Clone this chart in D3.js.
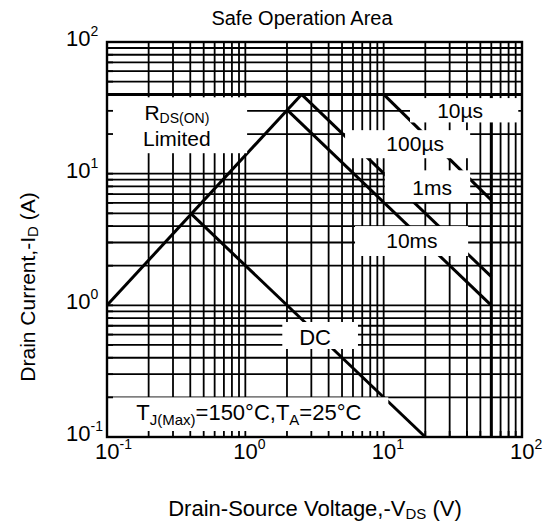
<!DOCTYPE html>
<html>
<head>
<meta charset="utf-8">
<script src="https://cdn.jsdelivr.net/npm/d3@7"></script>
<style>
  html, body { margin: 0; padding: 0; background: #fff; }
  svg { display: block; font-family: "Liberation Sans", Arial, Helvetica, sans-serif; }
</style>
</head>
<body>
<svg id="chart" width="549" height="530"></svg>
<script>
// Axis decades and tick labels
const xDecades = [0.1, 1, 10, 100];
const yDecades = [0.1, 1, 10, 100];
const decadeExponents = ["-1", "0", "1", "2"];

// R_DS(ON) limited boundary (V, A)
const rdsV = [0.1, 2.55];
const rdsI = [1.0, 40];

// Pulsed drain current limit and breakdown voltage limit
const idmI = 40;
const bvdssV = 60;

// Pulse-width power limit lines (V, A)
const p10usV = [10, 60];     const p10usI = [40, 6.3];
const p100usV = [2.55, 60];  const p100usI = [40, 1.65];
const p1msV = [2.04, 60];    const p1msI = [30, 1.0];
const dcV = [0.41, 20];      const dcI = [4.9, 0.1];

const plot = { left: 107, right: 522, top: 42, bottom: 437 };

const svg = d3.select("#chart");
const x = d3.scaleLog().domain([0.1, 100]).range([plot.left, plot.right]);
const y = d3.scaleLog().domain([0.1, 100]).range([plot.bottom, plot.top]);

// 1..9 positions in every decade
function minors(decs) {
  const out = [];
  for (let i = 0; i < decs.length - 1; i++) {
    for (let k = 1; k <= 9; k++) out.push(decs[i] * k);
  }
  out.push(decs[decs.length - 1]);
  return out;
}
const xGrid = minors(xDecades);
const yGrid = minors(yDecades);

const g = svg.append("g");

// grid
g.append("g").selectAll("line").data(xGrid).join("line")
  .attr("x1", d => x(d)).attr("x2", d => x(d))
  .attr("y1", plot.top).attr("y2", plot.bottom)
  .attr("stroke", "#000").attr("stroke-width", 1.8);
g.append("g").selectAll("line").data(yGrid).join("line")
  .attr("x1", plot.left).attr("x2", plot.right)
  .attr("y1", d => y(d)).attr("y2", d => y(d))
  .attr("stroke", "#000").attr("stroke-width", 1.8);

// SOA boundary lines
const line = d3.line().x(d => x(d[0])).y(d => y(d[1]));
const zip = (a, b) => a.map((v, i) => [v, b[i]]);
const curves = [
  zip(rdsV, rdsI),
  [[0.1, idmI], [100, idmI]],
  [[bvdssV, idmI], [bvdssV, 0.1]],
  zip(p10usV, p10usI),
  zip(p100usV, p100usI),
  zip(p1msV, p1msI),
  zip(dcV, dcI)
];
g.append("g").selectAll("path").data(curves).join("path")
  .attr("d", line).attr("fill", "none")
  .attr("stroke", "#000").attr("stroke-width", 3);

// white label backgrounds, in data units
const boxes = [
  { v0: 0.1, v1: 1.03, i0: 14.3, i1: 38 },    // R_DS(ON) Limited
  { v0: 0.1, v1: 10.8, i0: 0.1, i1: 0.2 },    // T_J note
  { v0: 15.5, v1: 94, i0: 24.5, i1: 37.5 },   // 10us
  { v0: 5.26, v1: 42.2, i0: 13.1, i1: 21.4 }, // 100us
  { v0: 10.2, v1: 42.2, i0: 6.09, i1: 10.6 }, // 1ms
  { v0: 6.21, v1: 40.8, i0: 2.37, i1: 4.0 },  // 10ms
  { v0: 1.85, v1: 6.52, i0: 0.466, i1: 0.747 } // DC
];
g.append("g").selectAll("rect").data(boxes).join("rect")
  .attr("x", d => x(d.v0)).attr("y", d => y(d.i1))
  .attr("width", d => x(d.v1) - x(d.v0))
  .attr("height", d => y(d.i0) - y(d.i1))
  .attr("fill", "#fff");

// inward ticks on the bottom and left axes
g.append("g").selectAll("line").data(xGrid).join("line")
  .attr("x1", d => x(d)).attr("x2", d => x(d))
  .attr("y1", plot.bottom).attr("y2", plot.bottom - 6)
  .attr("stroke", "#000").attr("stroke-width", 1.8);
g.append("g").selectAll("line").data(yGrid).join("line")
  .attr("x1", plot.left).attr("x2", plot.left + 6)
  .attr("y1", d => y(d)).attr("y2", d => y(d))
  .attr("stroke", "#000").attr("stroke-width", 1.8);

// frame
g.append("rect")
  .attr("x", plot.left).attr("y", plot.top)
  .attr("width", plot.right - plot.left).attr("height", plot.bottom - plot.top)
  .attr("fill", "none").attr("stroke", "#000").attr("stroke-width", 2.4);

// text with sub/superscript parts
function richText(sel, parts) {
  parts.forEach(p => {
    const t = sel.append("tspan").text(p.t);
    if (p.size) t.attr("font-size", p.size);
    if (p.dy) t.attr("dy", p.dy);
  });
}

// annotations
const ann = g.append("g").attr("font-size", 21).attr("fill", "#000");
ann.append("text").attr("x", x(35.7)).attr("y", y(30.4)).attr("dy", "0.36em")
  .attr("text-anchor", "middle").text("10µs");
ann.append("text").attr("x", x(16.9)).attr("y", y(17.1)).attr("dy", "0.36em")
  .attr("text-anchor", "middle").text("100µs");
ann.append("text").attr("x", x(22.4)).attr("y", y(7.9)).attr("dy", "0.36em")
  .attr("text-anchor", "middle").text("1ms");
ann.append("text").attr("x", x(16.0)).attr("y", y(3.13)).attr("dy", "0.36em")
  .attr("text-anchor", "middle").text("10ms");
ann.append("text").attr("x", x(3.19)).attr("y", y(0.575)).attr("dy", "0.36em")
  .attr("font-size", 22).attr("text-anchor", "middle").text("DC");
const rds = ann.append("text").attr("x", x(0.32)).attr("y", y(20)).attr("dy", -14)
  .attr("text-anchor", "middle");
richText(rds, [{ t: "R" }, { t: "DS(ON)", size: 14, dy: 3 }]);
ann.append("text").attr("x", x(0.32)).attr("y", y(20)).attr("dy", 12)
  .attr("text-anchor", "middle").text("Limited");
const tj = ann.append("text").attr("x", x(1.06)).attr("y", y(0.155)).attr("dy", "0.36em")
  .attr("font-size", 22).attr("text-anchor", "middle");
richText(tj, [{ t: "T" }, { t: "J(Max)", size: 15, dy: 5 }, { t: "=150°C,T", dy: -5 },
              { t: "A", size: 15, dy: 5 }, { t: "=25°C", dy: -5 }]);

// decade tick labels with exponents
const xl = svg.append("g").attr("font-size", 22);
xDecades.forEach((d, i) => {
  const t = xl.append("text").attr("x", x(d) - 12).attr("y", 459);
  t.append("tspan").text("10");
  t.append("tspan").attr("font-size", 14).attr("dy", -10).text(decadeExponents[i]);
});
const yl = svg.append("g").attr("font-size", 22);
yDecades.forEach((d, i) => {
  const t = yl.append("text").attr("x", 66).attr("y", y(d) + 4);
  t.append("tspan").text("10");
  t.append("tspan").attr("font-size", 14).attr("dy", -10).text(decadeExponents[i]);
});

// title and axis titles
svg.append("text").attr("x", 302).attr("y", 25).attr("text-anchor", "middle")
  .attr("font-size", 20).text("Safe Operation Area");

const xt = svg.append("text").attr("x", 315).attr("y", 516).attr("text-anchor", "middle")
  .attr("font-size", 22);
richText(xt, [{ t: "Drain-Source Voltage,-V" }, { t: "DS", size: 15, dy: 3 }, { t: " (V)", dy: -3 }]);

const yt = svg.append("text").attr("transform", "translate(35,287) rotate(-90)")
  .attr("text-anchor", "middle").attr("font-size", 21);
richText(yt, [{ t: "Drain Current,-I" }, { t: "D", size: 15, dy: 3 }, { t: " (A)", dy: -3 }]);
</script>
</body>
</html>
